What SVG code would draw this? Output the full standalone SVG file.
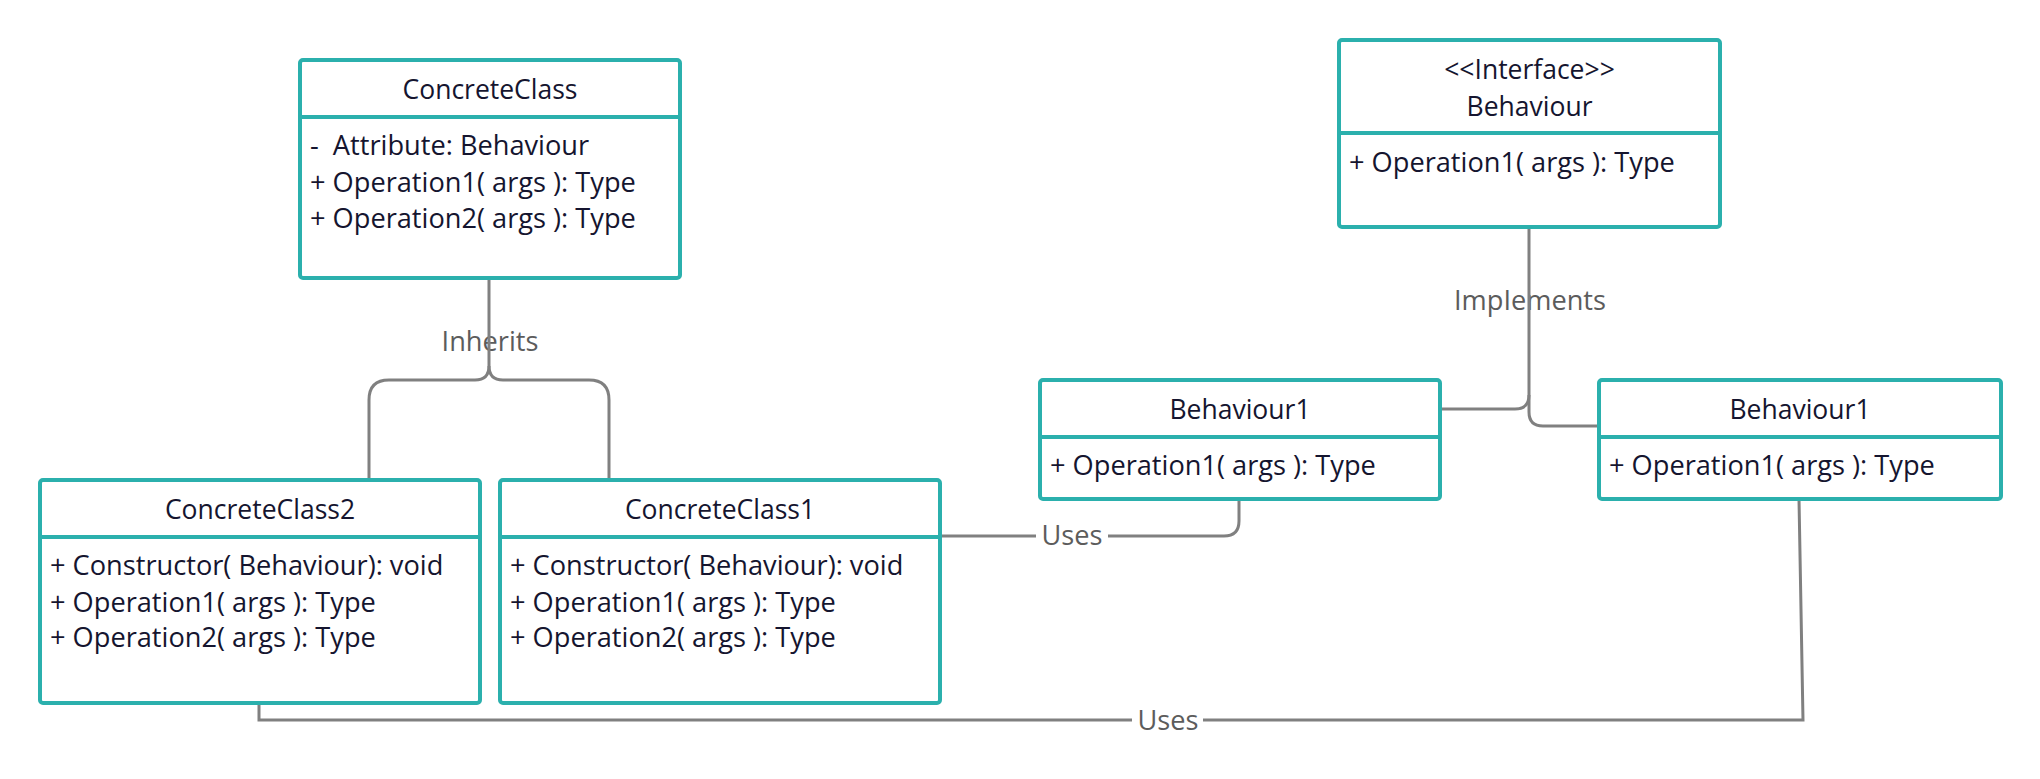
<svg xmlns="http://www.w3.org/2000/svg" width="2040" height="779" viewBox="0 0 2040 779">
<style>
  .box { fill: #ffffff; stroke: #2bb0ad; stroke-width: 4; }
  .div { stroke: #2bb0ad; stroke-width: 4; fill: none; }
  .t { font-family: "Open Sans", "Noto Sans", sans-serif; font-size: 26.5px; fill: #15152f; white-space: pre; }
  .m { font-size: 27.2px; }
  .c { text-anchor: middle; }
  .conn { fill: none; stroke: #808080; stroke-width: 3; }
  .lbl { font-family: "Open Sans", "Noto Sans", sans-serif; font-size: 27.2px; fill: #5c5c5c; text-anchor: middle; }
</style>
<rect width="2040" height="779" fill="#ffffff"/>

<g id="connectors">
  <text class="lbl" x="490" y="351">Inherits</text>
  <text class="lbl" x="1530" y="310">ImpIements</text>
  <text class="lbl" x="1072" y="545">Uses</text>
  <text class="lbl" x="1168" y="730">Uses</text>
  <path class="conn" d="M489 278 V366 Q489 380 475 380 H389 Q369 380 369 400 V480"/>
  <path class="conn" d="M489 366 Q489 380 503 380 H589 Q609 380 609 400 V480"/>
  <path class="conn" d="M1529 227 V395 Q1529 409 1515 409 H1440"/>
  <path class="conn" d="M1529 395 V412 Q1529 426 1543 426 H1599"/>
  <path class="conn" d="M940 536 H1036"/>
  <path class="conn" d="M1108 536 H1224 Q1239 536 1239 521 V499"/>
  <path class="conn" d="M259 703 V720 H1132"/>
  <path class="conn" d="M1203 720 H1803 L1799 499"/>
</g>

<g id="ConcreteClass">
  <rect class="box" x="300" y="60" width="380" height="218" rx="3"/>
  <line class="div" x1="300" y1="117" x2="680" y2="117"/>
  <text class="t c" x="490" y="99">ConcreteClass</text>
  <text class="t m" x="310" y="155">-  Attribute: Behaviour</text>
  <text class="t m" x="310" y="192">+ Operation1( args ): Type</text>
  <text class="t m" x="310" y="228">+ Operation2( args ): Type</text>
</g>

<g id="ConcreteClass2">
  <rect class="box" x="40" y="480" width="440" height="223" rx="3"/>
  <line class="div" x1="40" y1="537" x2="480" y2="537"/>
  <text class="t c" x="260" y="519">ConcreteClass2</text>
  <text class="t m" x="50" y="575">+ Constructor( Behaviour): void</text>
  <text class="t m" x="50" y="612">+ Operation1( args ): Type</text>
  <text class="t m" x="50" y="647">+ Operation2( args ): Type</text>
</g>

<g id="ConcreteClass1">
  <rect class="box" x="500" y="480" width="440" height="223" rx="3"/>
  <line class="div" x1="500" y1="537" x2="940" y2="537"/>
  <text class="t c" x="720" y="519">ConcreteClass1</text>
  <text class="t m" x="510" y="575">+ Constructor( Behaviour): void</text>
  <text class="t m" x="510" y="612">+ Operation1( args ): Type</text>
  <text class="t m" x="510" y="647">+ Operation2( args ): Type</text>
</g>

<g id="Behaviour">
  <rect class="box" x="1339" y="40" width="381" height="187" rx="3"/>
  <line class="div" x1="1339" y1="133" x2="1720" y2="133"/>
  <text class="t c" x="1529.5" y="79">&lt;&lt;Interface&gt;&gt;</text>
  <text class="t c" x="1529.5" y="116">Behaviour</text>
  <text class="t m" x="1349" y="172">+ Operation1( args ): Type</text>
</g>

<g id="Behaviour1-left">
  <rect class="box" x="1040" y="380" width="400" height="119" rx="3"/>
  <line class="div" x1="1040" y1="437" x2="1440" y2="437"/>
  <text class="t c" x="1240" y="419">Behaviour1</text>
  <text class="t m" x="1050" y="475">+ Operation1( args ): Type</text>
</g>

<g id="Behaviour1-right">
  <rect class="box" x="1599" y="380" width="402" height="119" rx="3"/>
  <line class="div" x1="1599" y1="437" x2="2001" y2="437"/>
  <text class="t c" x="1800" y="419">Behaviour1</text>
  <text class="t m" x="1609" y="475">+ Operation1( args ): Type</text>
</g>
</svg>
